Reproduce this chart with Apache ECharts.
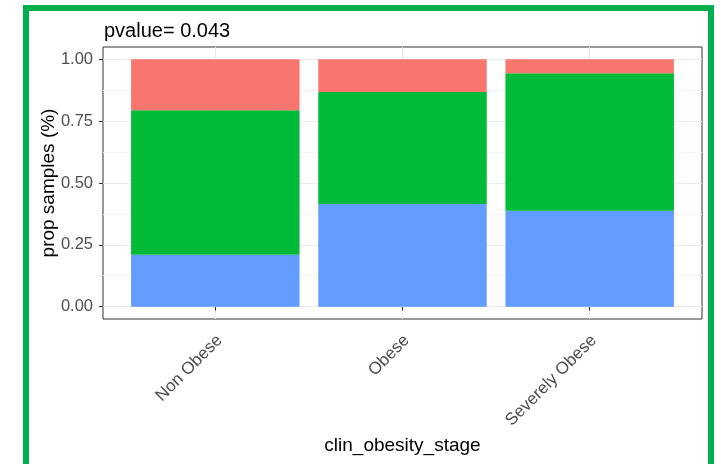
<!DOCTYPE html>
<html>
<head>
<meta charset="utf-8">
<script src="https://cdn.jsdelivr.net/npm/echarts@6/dist/echarts.min.js"></script>
<style>
  html, body { margin: 0; padding: 0; background: #ffffff; }
  #chart { width: 721px; height: 464px; }
</style>
</head>
<body>
<div id="chart"></div>
<script>
// Obesity stage categories on the x axis
const categories = ['Non Obese', 'Obese', 'Severely Obese'];

// Proportion of samples per group, stacked bottom to top
const group3 = [0.210, 0.415, 0.388];   // blue, bottom
const group2 = [0.584, 0.453, 0.556];   // green, middle
const group1 = [0.206, 0.132, 0.056];   // red, top

// Y axis breaks
const majorBreaks = [0, 0.25, 0.5, 0.75, 1];
const minorBreaks = [0.125, 0.375, 0.625, 0.875];
const categoryPositions = [1, 2, 3];

const pTitle = 'pvalue= 0.043';
const xTitle = 'clin_obesity_stage';
const yTitle = 'prop samples (%)';

const FONT = '"Liberation Sans", Arial, Helvetica, sans-serif';

// Panel geometry: discrete axis padded by 0.6 of a category on each side
const PANEL_LEFT = 103, PANEL_WIDTH = 599, PANEL_TOP = 47, PANEL_HEIGHT = 272;
const UNIT = PANEL_WIDTH / 3.2;
const BAR_LEFT = PANEL_LEFT + 0.1 * UNIT;
const BAR_WIDTH = 3 * UNIT;

const chart = echarts.init(document.getElementById('chart'), null, { renderer: 'canvas' });

const yRange = { min: -0.05, max: 1.05 };

const option = {
  animation: false,
  backgroundColor: '#ffffff',
  title: {
    text: pTitle,
    left: 99,
    top: 16,
    textStyle: { fontFamily: FONT, fontSize: 20, fontWeight: 'normal', color: '#000000' }
  },
  grid: [
    {
      // panel with border, grid lines, ticks and labels
      left: PANEL_LEFT, top: PANEL_TOP, width: PANEL_WIDTH, height: PANEL_HEIGHT,
      show: true, backgroundColor: '#ffffff',
      borderColor: '#333333', borderWidth: 1
    },
    {
      // bar layer over the panel
      left: BAR_LEFT, top: PANEL_TOP, width: BAR_WIDTH, height: PANEL_HEIGHT,
      show: false
    }
  ],
  xAxis: [
    {
      type: 'value',
      gridIndex: 0,
      min: 0.4, max: 3.6,
      name: xTitle,
      nameLocation: 'middle',
      nameGap: 117,
      nameMoveOverlap: false,
      nameTextStyle: { fontFamily: FONT, fontSize: 19, color: '#000000' },
      axisLine: { show: false },
      axisTick: { show: true, length: 4, customValues: categoryPositions, lineStyle: { color: '#333333', width: 1 } },
      axisLabel: {
        customValues: categoryPositions,
        rotate: 45,
        margin: 23,
        padding: [0, -6, 0, 0],
        fontFamily: FONT, fontSize: 17, color: '#4d4d4d',
        formatter: v => categories[Math.round(v) - 1]
      },
      splitLine: { show: true, lineStyle: { color: '#ebebeb', width: 1 } }
    },
    {
      type: 'category',
      gridIndex: 1,
      data: categories,
      boundaryGap: true,
      axisLine: { show: false },
      axisTick: { show: false },
      axisLabel: { show: false },
      splitLine: { show: false }
    }
  ],
  yAxis: [
    {
      type: 'value',
      gridIndex: 0,
      min: yRange.min, max: yRange.max,
      name: yTitle,
      nameLocation: 'middle',
      nameRotate: 90,
      nameGap: 45,
      nameMoveOverlap: false,
      nameTextStyle: { fontFamily: FONT, fontSize: 19, color: '#000000' },
      axisLine: { show: false },
      axisTick: { show: true, length: 4, customValues: majorBreaks, lineStyle: { color: '#333333', width: 1 } },
      axisLabel: {
        customValues: majorBreaks,
        margin: 10,
        fontFamily: FONT, fontSize: 16.5, color: '#4d4d4d',
        formatter: v => v.toFixed(2)
      },
      splitLine: { show: true, lineStyle: { color: '#ebebeb', width: 1 } },
      z: 1
    },
    {
      // minor horizontal grid
      type: 'value',
      gridIndex: 0,
      min: yRange.min, max: yRange.max,
      position: 'left',
      axisLine: { show: false },
      axisTick: { show: false, customValues: minorBreaks },
      axisLabel: { show: false, customValues: minorBreaks },
      splitLine: { show: true, lineStyle: { color: '#f4f4f4', width: 1 } },
      z: 0
    },
    {
      // value scale for the bar layer
      type: 'value',
      gridIndex: 1,
      min: yRange.min, max: yRange.max,
      axisLine: { show: false },
      axisTick: { show: false },
      axisLabel: { show: false },
      splitLine: { show: false }
    }
  ],
  series: [
    {
      name: '3', type: 'bar', stack: 'prop', barWidth: '90%',
      xAxisIndex: 1, yAxisIndex: 2,
      data: group3, itemStyle: { color: '#619CFF' }
    },
    {
      name: '2', type: 'bar', stack: 'prop', barWidth: '90%',
      xAxisIndex: 1, yAxisIndex: 2,
      data: group2, itemStyle: { color: '#00BA38' }
    },
    {
      name: '1', type: 'bar', stack: 'prop', barWidth: '90%',
      xAxisIndex: 1, yAxisIndex: 2,
      data: group1, itemStyle: { color: '#F8766D' }
    }
  ],
  graphic: [
    {
      type: 'rect',
      shape: { x: 26, y: 8, width: 685, height: 520 },
      style: { fill: null, stroke: '#00B04F', lineWidth: 6 },
      silent: true,
      z: 100
    }
  ]
};

chart.setOption(option);
</script>
</body>
</html>
